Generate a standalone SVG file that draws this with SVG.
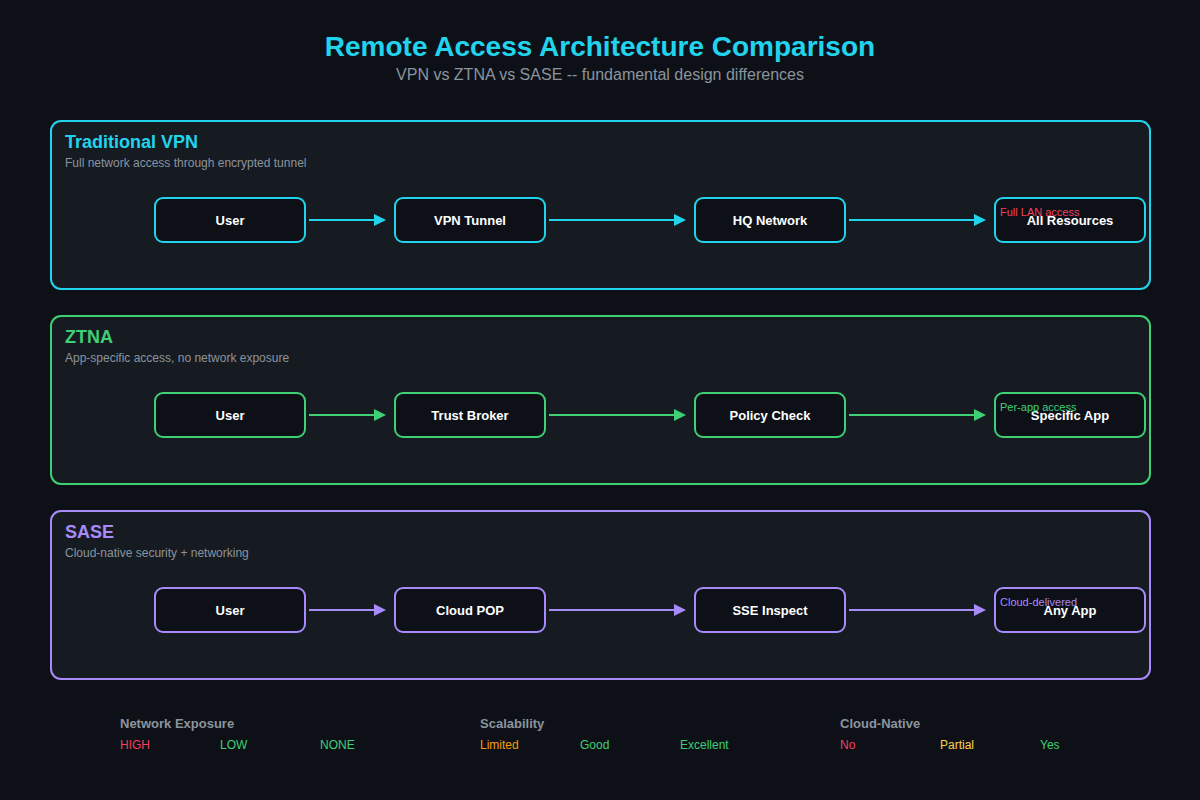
<svg xmlns="http://www.w3.org/2000/svg" width="1200" height="800" viewBox="0 0 1200 800">
<defs>
<style>
text{font-family:"Liberation Sans",Arial,sans-serif}
.title{font-size:28px;font-weight:bold;fill:#22d3ee}
.sub{font-size:16px;fill:#8b949e}
.panel{fill:#161b22;stroke-width:2}
.ptitle{font-size:18px;font-weight:bold}
.pdesc{font-size:12px;fill:#8b949e}
.node{fill:#0d1117;stroke-width:2}
.nl{font-size:13px;font-weight:bold;fill:#ffffff;text-anchor:middle}
.note{font-size:11px}
.lh{font-size:13px;font-weight:bold;fill:#8b949e}
.lv{font-size:12px}
.c{stroke:#22d3ee}.g{stroke:#3fcf75}.p{stroke:#a78bfa}
</style>
<marker id="ac" markerWidth="12" markerHeight="12" refX="10" refY="6" orient="auto" markerUnits="userSpaceOnUse"><path d="M0,0 L12,6 L0,12 z" fill="#22d3ee"/></marker>
<marker id="ag" markerWidth="12" markerHeight="12" refX="10" refY="6" orient="auto" markerUnits="userSpaceOnUse"><path d="M0,0 L12,6 L0,12 z" fill="#3fcf75"/></marker>
<marker id="ap" markerWidth="12" markerHeight="12" refX="10" refY="6" orient="auto" markerUnits="userSpaceOnUse"><path d="M0,0 L12,6 L0,12 z" fill="#a78bfa"/></marker>
</defs>
<rect width="1200" height="800" fill="#0d1117"/>
<text class="title" x="600" y="56" text-anchor="middle">Remote Access Architecture Comparison</text>
<text class="sub" x="600" y="80" text-anchor="middle">VPN vs ZTNA vs SASE -- fundamental design differences</text>

<g id="panel-vpn">
<rect class="panel c" x="51" y="121" width="1099" height="168" rx="10"/>
<text class="ptitle" x="65" y="148" fill="#22d3ee">Traditional VPN</text>
<text class="pdesc" x="65" y="167">Full network access through encrypted tunnel</text>
</g>
<g id="panel-ztna">
<rect class="panel g" x="51" y="316" width="1099" height="168" rx="10"/>
<text class="ptitle" x="65" y="343" fill="#3fcf75">ZTNA</text>
<text class="pdesc" x="65" y="362">App-specific access, no network exposure</text>
</g>
<g id="panel-sase">
<rect class="panel p" x="51" y="511" width="1099" height="168" rx="10"/>
<text class="ptitle" x="65" y="538" fill="#a78bfa">SASE</text>
<text class="pdesc" x="65" y="557">Cloud-native security + networking</text>
</g>

<g id="connectors" stroke-width="2">
<line x1="309" y1="220" x2="384" y2="220" stroke="#22d3ee" marker-end="url(#ac)"/>
<line x1="549" y1="220" x2="684" y2="220" stroke="#22d3ee" marker-end="url(#ac)"/>
<line x1="849" y1="220" x2="984" y2="220" stroke="#22d3ee" marker-end="url(#ac)"/>
<line x1="309" y1="415" x2="384" y2="415" stroke="#3fcf75" marker-end="url(#ag)"/>
<line x1="549" y1="415" x2="684" y2="415" stroke="#3fcf75" marker-end="url(#ag)"/>
<line x1="849" y1="415" x2="984" y2="415" stroke="#3fcf75" marker-end="url(#ag)"/>
<line x1="309" y1="610" x2="384" y2="610" stroke="#a78bfa" marker-end="url(#ap)"/>
<line x1="549" y1="610" x2="684" y2="610" stroke="#a78bfa" marker-end="url(#ap)"/>
<line x1="849" y1="610" x2="984" y2="610" stroke="#a78bfa" marker-end="url(#ap)"/>
</g>

<g id="vpn-user"><rect class="node c" x="155" y="198" width="150" height="44" rx="8"/><text class="nl" x="230" y="225">User</text></g>
<g id="vpn-tunnel"><rect class="node c" x="395" y="198" width="150" height="44" rx="8"/><text class="nl" x="470" y="225">VPN Tunnel</text></g>
<g id="vpn-hq"><rect class="node c" x="695" y="198" width="150" height="44" rx="8"/><text class="nl" x="770" y="225">HQ Network</text></g>
<g id="vpn-all"><rect class="node c" x="995" y="198" width="150" height="44" rx="8"/><text class="nl" x="1070" y="225">All Resources</text><text class="note" x="1000" y="216" fill="#f43f5e">Full LAN access</text></g>

<g id="ztna-user"><rect class="node g" x="155" y="393" width="150" height="44" rx="8"/><text class="nl" x="230" y="420">User</text></g>
<g id="ztna-broker"><rect class="node g" x="395" y="393" width="150" height="44" rx="8"/><text class="nl" x="470" y="420">Trust Broker</text></g>
<g id="ztna-policy"><rect class="node g" x="695" y="393" width="150" height="44" rx="8"/><text class="nl" x="770" y="420">Policy Check</text></g>
<g id="ztna-app"><rect class="node g" x="995" y="393" width="150" height="44" rx="8"/><text class="nl" x="1070" y="420">Specific App</text><text class="note" x="1000" y="411" fill="#3fcf75">Per-app access</text></g>

<g id="sase-user"><rect class="node p" x="155" y="588" width="150" height="44" rx="8"/><text class="nl" x="230" y="615">User</text></g>
<g id="sase-pop"><rect class="node p" x="395" y="588" width="150" height="44" rx="8"/><text class="nl" x="470" y="615">Cloud POP</text></g>
<g id="sase-sse"><rect class="node p" x="695" y="588" width="150" height="44" rx="8"/><text class="nl" x="770" y="615">SSE Inspect</text></g>
<g id="sase-app"><rect class="node p" x="995" y="588" width="150" height="44" rx="8"/><text class="nl" x="1070" y="615">Any App</text><text class="note" x="1000" y="606" fill="#a78bfa">Cloud-delivered</text></g>

<g id="legend">
<text class="lh" x="120" y="728">Network Exposure</text>
<text class="lv" x="120" y="749" fill="#f43f5e">HIGH</text>
<text class="lv" x="220" y="749" fill="#3fcf75">LOW</text>
<text class="lv" x="320" y="749" fill="#3fcf75">NONE</text>
<text class="lh" x="480" y="728">Scalability</text>
<text class="lv" x="480" y="749" fill="#f59e0b">Limited</text>
<text class="lv" x="580" y="749" fill="#3fcf75">Good</text>
<text class="lv" x="680" y="749" fill="#3fcf75">Excellent</text>
<text class="lh" x="840" y="728">Cloud-Native</text>
<text class="lv" x="840" y="749" fill="#f43f5e">No</text>
<text class="lv" x="940" y="749" fill="#fcd34d">Partial</text>
<text class="lv" x="1040" y="749" fill="#3fcf75">Yes</text>
</g>
</svg>
